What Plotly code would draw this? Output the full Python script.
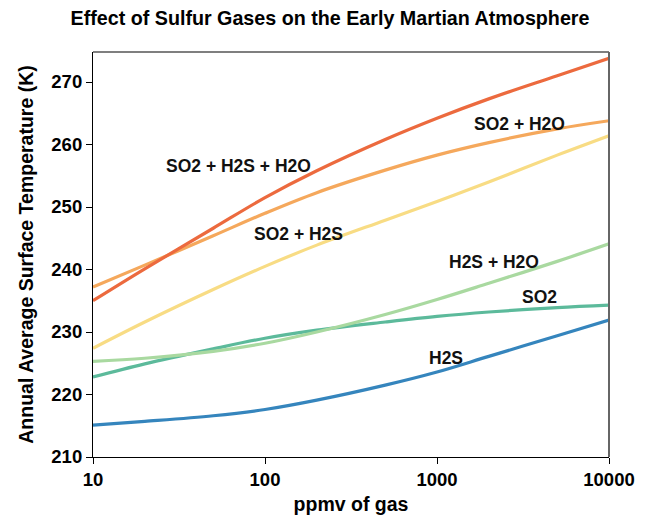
import plotly.graph_objects as go

ppmv = [10, 20, 50, 100, 200, 500, 1000, 2000, 5000, 10000]

so2_h2s_h2o = [235.0, 240.1, 246.6, 251.5, 255.8, 260.8, 264.2, 267.3, 271.0, 273.8]
so2_h2o     = [237.2, 240.7, 245.4, 249.0, 252.3, 255.9, 258.3, 260.3, 262.5, 263.8]
so2_h2s     = [227.4, 231.6, 236.8, 240.5, 243.9, 247.9, 250.9, 254.0, 258.3, 261.4]
h2s_h2o     = [225.3, 225.8, 226.9, 228.2, 230.0, 232.8, 235.2, 237.8, 241.3, 244.1]
so2         = [222.8, 224.9, 227.3, 229.0, 230.3, 231.6, 232.5, 233.2, 233.9, 234.3]
h2s         = [215.1, 215.7, 216.6, 217.6, 219.1, 221.5, 223.6, 226.1, 229.4, 231.9]

series = [
    ("SO2 + H2S + H2O", so2_h2s_h2o, "#ec6a3e"),
    ("SO2 + H2O", so2_h2o, "#f5a85c"),
    ("SO2 + H2S", so2_h2s, "#f8dc84"),
    ("H2S + H2O", h2s_h2o, "#a9d9a0"),
    ("SO2", so2, "#5cba9b"),
    ("H2S", h2s, "#3585bd"),
]

# label placements (log10 x, temperature)
labels = [
    ("SO2 + H2S + H2O", 1.843, 256.6),
    ("SO2 + H2S", 2.192, 245.7),
    ("SO2 + H2O", 3.477, 263.3),
    ("H2S + H2O", 3.331, 241.2),
    ("SO2", 3.593, 235.6),
    ("H2S", 3.052, 225.8),
]

x_ticks = [10, 100, 1000, 10000]
y_ticks = [210, 220, 230, 240, 250, 260, 270]

FONT = "Arial, Liberation Sans, sans-serif"

fig = go.Figure()
for name, vals, col in reversed(series):
    fig.add_trace(go.Scatter(
        x=ppmv, y=vals, mode="lines", name=name,
        line=dict(color=col, width=3.2, shape="spline", smoothing=1.0),
        showlegend=False,
    ))

for text, lx, ly in labels:
    fig.add_annotation(x=lx, y=ly, text=text, showarrow=False,
                       font=dict(family=FONT, size=17.5, color="#111111", weight="bold"),
                       xanchor="center", yanchor="middle")

fig.update_layout(
    width=648, height=528,
    margin=dict(l=93, r=39, t=52, b=71),
    paper_bgcolor="white", plot_bgcolor="white",
    font=dict(family=FONT, color="black"),
    title=dict(text="Effect of Sulfur Gases on the Early Martian Atmosphere",
               x=330/648, xanchor="center", y=1 - 18/528, yanchor="middle",
               font=dict(family=FONT, size=19.7, color="black", weight="bold")),
    xaxis=dict(type="log", range=[1, 4], tickvals=x_ticks,
               ticktext=[str(v) for v in x_ticks],
               showgrid=False, zeroline=False,
               showline=True, linecolor="black", linewidth=1.2,
               ticks="outside", ticklen=6, tickcolor="black",
               tickfont=dict(family=FONT, size=18.5, color="black", weight="bold"),
               title=dict(text="ppmv of gas", standoff=8,
                          font=dict(family=FONT, size=19.5, color="black", weight="bold"))),
    yaxis=dict(range=[210, 274.8], tickvals=y_ticks,
               showgrid=False, zeroline=False,
               showline=True, linecolor="black", linewidth=1.2,
               ticks="outside", ticklen=6, tickcolor="black",
               tickfont=dict(family=FONT, size=18.5, color="black", weight="bold"),
               title=dict(text="Annual Average Surface Temperature (K)", standoff=12,
                          font=dict(family=FONT, size=19.5, color="black", weight="bold"))),
)

fig.add_shape(type="line", xref="paper", yref="paper", x0=0, x1=1, y0=1, y1=1,
              line=dict(color="black", width=1.2))
fig.add_shape(type="line", xref="paper", yref="paper", x0=1, x1=1, y0=0, y1=1,
              line=dict(color="#666666", width=2))

fig.write_html("out.html")
